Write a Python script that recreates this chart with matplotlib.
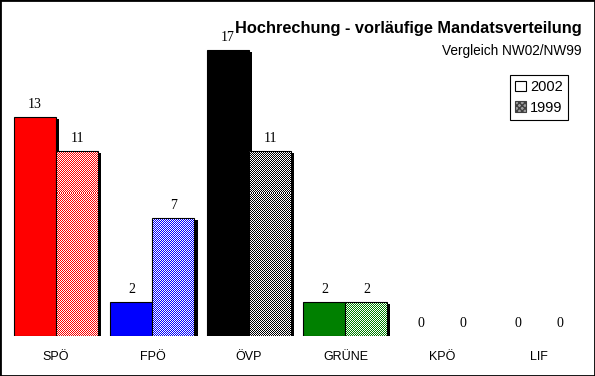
import numpy as np
import matplotlib
matplotlib.use('Agg')
import matplotlib.pyplot as plt
from matplotlib.patches import Patch, Rectangle
from matplotlib.colors import to_rgb

parties = ['SPÖ', 'FPÖ', 'ÖVP', 'GRÜNE', 'KPÖ', 'LIF']
seats_2002 = [13, 2, 17, 2, 0, 0]
seats_1999 = [11, 7, 11, 2, 0, 0]
colors = ['#FF0000', '#0000FF', '#000000', '#008000', '#808080', '#808080']
years = ['2002', '1999']

W, H = 595, 376
plt.rcParams['image.composite_image'] = False
fig = plt.figure(figsize=(W / 100, H / 100), dpi=100)

# axes laid out in pixels: baseline 40px from bottom, group spacing 96.5px
AX_H = 336
px_x = 96.5
px_y = 16.85
xlim = (-56 / px_x, (W - 56) / px_x)
ylim = (0, AX_H / px_y)
ax = fig.add_axes([0, 40 / H, 1, AX_H / H])
ax.axis('off')

x = np.arange(len(parties))
bw = 42 / px_x
dx, dy = 3 / px_x, 2 / px_y


def checker(color):
    # 1px dither of colour and white over the whole axes, like the old bitmap fill
    c = np.array(to_rgb(color))
    img = np.ones((AX_H, W, 3))
    mask = (np.add.outer(np.arange(AX_H), np.arange(W)) % 2) == 0
    img[mask] = c
    return img


for i in range(len(parties)):
    for j, vals in enumerate([seats_2002, seats_1999]):
        v = vals[i]
        xl = x[i] - bw + j * bw
        if v > 0:
            # shadow
            ax.bar(xl + dx, v, bw, bottom=-dy, align='edge', color='black', lw=0, zorder=1)
            if j == 0:
                ax.bar(xl, v, bw, align='edge', color=colors[i], edgecolor='black', lw=0.8, zorder=2)
            else:
                outline = ax.bar(xl, v, bw, align='edge', fill=False, edgecolor='black',
                                 lw=0.8, zorder=3)[0]
                im = ax.imshow(checker(colors[i]), extent=(*xlim, *ylim),
                               interpolation='none', aspect='auto', zorder=2)
                im.set_clip_path(outline)
        ax.text(xl + bw / 2, v + 9 / px_y, str(v), ha='center', va='baseline',
                fontsize=10, family='Liberation Serif', zorder=4)
    ax.text(x[i], -24 / px_y, parties[i], ha='center', va='baseline',
            fontsize=9, family='Liberation Sans', clip_on=False)

# imshow resets the limits
ax.set_xlim(*xlim)
ax.set_ylim(*ylim)

fig.text(582 / W, 1 - 33.5 / H, 'Hochrechung - vorläufige Mandatsverteilung', ha='right',
         va='baseline', fontsize=11.8, fontweight='bold', family='Liberation Sans')
fig.text(582 / W, 1 - 55 / H, 'Vergleich NW02/NW99', ha='right', va='baseline',
         fontsize=9.8, family='Liberation Sans')

handles = [Patch(facecolor='white', edgecolor='black', lw=0.8),
           Patch(facecolor='#A0A0A0', edgecolor='#404040', hatch='xxxxxx', lw=0.8)]
leg = fig.legend(handles, years, loc='upper right', bbox_to_anchor=(568 / W, 1 - 75 / H),
                 prop={'family': 'Liberation Sans', 'size': 10.5},
                 fancybox=False, framealpha=1, edgecolor='black', borderpad=0.35,
                 handlelength=0.75, handleheight=0.75, handletextpad=0.3, labelspacing=0.45,
                 borderaxespad=0)
leg.get_frame().set_linewidth(0.8)

fig.patches.append(Rectangle((0, 0), 1, 1, transform=fig.transFigure, fill=False,
                             edgecolor='black', lw=2))

fig.savefig('out.png', dpi=100)
